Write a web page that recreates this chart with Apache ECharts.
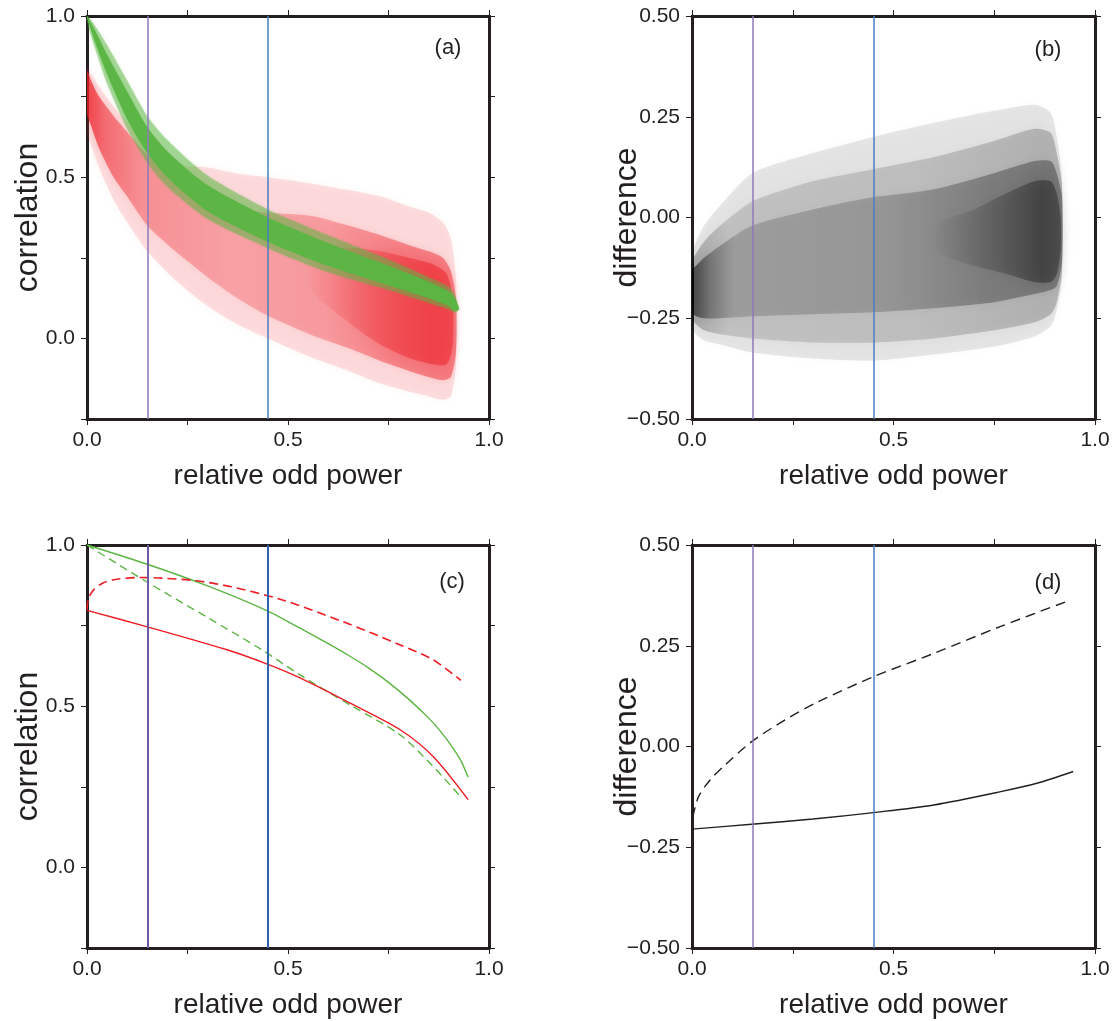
<!DOCTYPE html>
<html>
<head>
<meta charset="utf-8">
<script src="https://cdn.jsdelivr.net/npm/echarts@6/dist/echarts.min.js"></script>
<style>
html,body{margin:0;padding:0;background:#fff;}
#chart{width:1115px;height:1021px;}
</style>
</head>
<body>
<div id="chart"></div>
<script>
// ---------------- DATA ----------------
// vertical reference lines (relative odd power)
const refLineX = [0.15, 0.45];

// Panel (a): red cloud envelopes
const aRedX       = [0, 0.01, 0.03, 0.066, 0.1, 0.15, 0.22, 0.3, 0.38, 0.45, 0.56, 0.65, 0.73, 0.8, 0.85, 0.885, 0.905, 0.918];
const aRedOuterUp = [0.84, 0.82, 0.78, 0.72, 0.67, 0.60, 0.54, 0.53, 0.51, 0.50, 0.48, 0.46, 0.44, 0.41, 0.39, 0.36, 0.31, 0.18];
const aRedOuterLo = [0.64, 0.60, 0.53, 0.43, 0.36, 0.27, 0.18, 0.10, 0.04, 0.0, -0.06, -0.10, -0.14, -0.165, -0.18, -0.19, -0.18, -0.08];
const aRedMidUp   = [0.83, 0.80, 0.75, 0.69, 0.64, 0.57, 0.50, 0.43, 0.40, 0.39, 0.38, 0.35, 0.32, 0.29, 0.27, 0.25, 0.21, 0.12];
const aRedMidLo   = [0.70, 0.66, 0.59, 0.50, 0.44, 0.35, 0.27, 0.19, 0.12, 0.07, 0.01, -0.03, -0.07, -0.10, -0.12, -0.13, -0.12, -0.04];
const aRedRightX  = [0.55, 0.65, 0.73, 0.8, 0.86, 0.895, 0.91];
const aRedRightUp = [0.26, 0.28, 0.27, 0.25, 0.23, 0.20, 0.12];
const aRedRightLo = [0.16, 0.05, -0.02, -0.06, -0.08, -0.08, -0.02];

// Panel (a): green band envelopes
const aGreenX       = [0, 0.005, 0.02, 0.05, 0.1, 0.15, 0.2, 0.3, 0.45, 0.6, 0.75, 0.85, 0.9, 0.915, 0.925];
const aGreenCoreUp  = [1.0, 0.99, 0.955, 0.88, 0.765, 0.655, 0.58, 0.475, 0.375, 0.295, 0.225, 0.175, 0.145, 0.125, 0.095];
const aGreenCoreLo  = [0.995, 0.975, 0.92, 0.82, 0.68, 0.575, 0.50, 0.395, 0.30, 0.225, 0.165, 0.125, 0.10, 0.085, 0.09];
const aGreenOuterUp = [1.0, 0.995, 0.97, 0.91, 0.80, 0.69, 0.615, 0.505, 0.40, 0.32, 0.245, 0.19, 0.16, 0.135, 0.095];
const aGreenOuterLo = [0.99, 0.96, 0.90, 0.79, 0.65, 0.545, 0.47, 0.37, 0.28, 0.205, 0.15, 0.11, 0.09, 0.08, 0.09];

// Panel (b): black cloud envelopes
const bX       = [0, 0.01, 0.03, 0.07, 0.15, 0.3, 0.45, 0.6, 0.75, 0.85, 0.89, 0.905, 0.918];
const bOuterUp = [-0.09, -0.06, -0.02, 0.03, 0.11, 0.16, 0.20, 0.235, 0.265, 0.28, 0.26, 0.20, 0.10];
const bOuterLo = [-0.27, -0.29, -0.305, -0.315, -0.335, -0.35, -0.355, -0.34, -0.32, -0.295, -0.27, -0.23, -0.15];
const bMidUp   = [-0.11, -0.09, -0.06, -0.02, 0.04, 0.09, 0.12, 0.15, 0.19, 0.22, 0.21, 0.16, 0.08];
const bMidLo   = [-0.25, -0.265, -0.28, -0.29, -0.30, -0.31, -0.31, -0.30, -0.28, -0.26, -0.24, -0.21, -0.13];
const bCoreUp  = [-0.13, -0.12, -0.10, -0.07, -0.02, 0.02, 0.05, 0.07, 0.11, 0.14, 0.14, 0.11, 0.05];
const bCoreLo  = [-0.235, -0.245, -0.25, -0.25, -0.245, -0.24, -0.235, -0.225, -0.21, -0.19, -0.18, -0.17, -0.11];
const bDarkRX  = [0.6, 0.7, 0.78, 0.85, 0.89, 0.905, 0.915];
const bDarkRUp = [-0.02, 0.02, 0.06, 0.09, 0.09, 0.06, 0.0];
const bDarkRLo = [-0.08, -0.12, -0.14, -0.16, -0.16, -0.14, -0.08];

// Panel (c): curves
const cGreenSolidX = [0, 0.148, 0.3, 0.45, 0.53, 0.6, 0.65, 0.7, 0.75, 0.8, 0.85, 0.88, 0.91, 0.93, 0.948];
const cGreenSolidY = [1.0, 0.941, 0.873, 0.795, 0.742, 0.694, 0.658, 0.619, 0.574, 0.522, 0.463, 0.421, 0.371, 0.331, 0.28];
const cGreenDashX  = [0, 0.148, 0.3, 0.435, 0.53, 0.654, 0.779, 0.861, 0.93];
const cGreenDashY  = [1.0, 0.886, 0.775, 0.675, 0.597, 0.504, 0.411, 0.313, 0.218];
const cRedSolidX   = [0, 0.148, 0.348, 0.45, 0.53, 0.654, 0.779, 0.861, 0.948];
const cRedSolidY   = [0.797, 0.747, 0.675, 0.63, 0.588, 0.51, 0.427, 0.344, 0.21];
const cRedDashX    = [0, 0.004, 0.016, 0.041, 0.074, 0.132, 0.19, 0.273, 0.356, 0.48, 0.637, 0.779, 0.861, 0.93];
const cRedDashY    = [0.80, 0.835, 0.86, 0.883, 0.894, 0.899, 0.897, 0.889, 0.871, 0.832, 0.762, 0.69, 0.644, 0.58];

// Panel (d): curves
const dDashX  = [0.002, 0.016, 0.045, 0.082, 0.148, 0.231, 0.313, 0.45, 0.6, 0.766, 0.93];
const dDashY  = [-0.175, -0.125, -0.083, -0.046, 0.012, 0.066, 0.111, 0.173, 0.231, 0.298, 0.36];
const dSolidX = [0, 0.148, 0.3, 0.45, 0.6, 0.766, 0.86, 0.946];
const dSolidY = [-0.205, -0.193, -0.18, -0.164, -0.145, -0.112, -0.09, -0.062];

const panelLabels = ['(a)', '(b)', '(c)', '(d)'];
const xAxisTitle = 'relative odd power';
const yTitles = ['correlation', 'difference', 'correlation', 'difference'];

// ---------------- CHART ----------------
const FONT = '"Liberation Sans", Arial, Helvetica, sans-serif';
const INK = '#231f20';
const chart = echarts.init(document.getElementById('chart'), null, {renderer: 'canvas'});

const grids = [
  {left: 87, top: 16, width: 402, height: 403},
  {left: 692, top: 16, width: 403, height: 403},
  {left: 87, top: 545, width: 402, height: 403},
  {left: 692, top: 545, width: 403, height: 403}
];
const yRanges = [[-0.25, 1.0], [-0.5, 0.5], [-0.25, 1.0], [-0.5, 0.5]];
const yNameGaps = [43, 49, 43, 49];

function isMult(v, s) { return Math.abs(v / s - Math.round(v / s)) < 1e-6; }
const fmtX = v => isMult(v, 0.5) ? v.toFixed(1) : '';
const fmtCorr = v => isMult(v, 0.5) ? v.toFixed(1) : '';
const fmtDiff = v => v.toFixed(2).replace('-', '\u2212');

const xAxes = [], yAxes = [];
for (let g = 0; g < 4; g++) {
  const common = {
    type: 'value', gridIndex: g, min: 0, max: 1, interval: 0.25,
    splitLine: {show: false},
    axisLine: {show: true, onZero: false, lineStyle: {color: INK, width: 3}},
    axisTick: {show: true, inside: false, length: 6, lineStyle: {color: INK, width: 1}}
  };
  xAxes.push(Object.assign({}, common, {
    position: 'bottom',
    name: xAxisTitle, nameLocation: 'middle', nameGap: 43, nameMoveOverlap: false,
    nameTextStyle: {fontSize: 28, color: INK, fontFamily: FONT},
    axisLabel: {show: true, fontSize: 21, color: INK, fontFamily: FONT, margin: 11, formatter: fmtX}
  }));
  xAxes.push(Object.assign({}, common, {position: 'top', axisLabel: {show: false}}));

  const ycommon = {
    type: 'value', gridIndex: g, min: yRanges[g][0], max: yRanges[g][1], interval: 0.25,
    splitLine: {show: false},
    axisLine: {show: true, onZero: false, lineStyle: {color: INK, width: 3}},
    axisTick: {show: true, inside: false, length: 6, lineStyle: {color: INK, width: 1}}
  };
  yAxes.push(Object.assign({}, ycommon, {
    position: 'left',
    name: yTitles[g], nameLocation: 'middle', nameGap: yNameGaps[g], nameMoveOverlap: false,
    nameTextStyle: {fontSize: 32, color: INK, fontFamily: FONT},
    axisLabel: {show: true, fontSize: 21, color: INK, fontFamily: FONT, margin: 12,
      formatter: (g % 2 === 0) ? fmtCorr : fmtDiff}
  }));
  yAxes.push(Object.assign({}, ycommon, {position: 'right', axisLabel: {show: false}}));
}

// horizontal gradient from a list of [offset, rgba]
function hgrad(stops) {
  return new echarts.graphic.LinearGradient(0, 0, 1, 0, stops.map(s => ({offset: s[0], color: s[1]})));
}

function band(g, xs, up, lo, fill, blur, shadowColor) {
  return {
    type: 'custom', xAxisIndex: 2 * g, yAxisIndex: 2 * g, silent: true, clip: true,
    data: [[0, 0]],
    renderItem: function (params, api) {
      const pts = [];
      for (let i = 0; i < xs.length; i++) pts.push(api.coord([xs[i], up[i]]));
      for (let i = xs.length - 1; i >= 0; i--) pts.push(api.coord([xs[i], lo[i]]));
      return {
        type: 'polygon',
        shape: {points: pts, smooth: 0.25},
        style: {fill: fill, shadowBlur: blur || 0, shadowColor: shadowColor || 'rgba(0,0,0,0)'}
      };
    }
  };
}

function curve(g, xs, ys, color, dashed, width) {
  return {
    type: 'line', xAxisIndex: 2 * g, yAxisIndex: 2 * g, silent: true,
    showSymbol: false, symbol: 'none', smooth: 0.3,
    data: xs.map((x, i) => [x, ys[i]]),
    lineStyle: {color: color, width: width || 1.4, type: dashed ? dashed : 'solid'},
    z: 3
  };
}

function refLines(g, colors, width) {
  return {
    type: 'line', xAxisIndex: 2 * g, yAxisIndex: 2 * g, silent: true, data: [],
    z: 5,
    markLine: {
      silent: true, symbol: 'none', animation: false,
      label: {show: false},
      data: refLineX.map((x, i) => ({xAxis: x, lineStyle: {color: colors[i], width: width, type: 'solid'}}))
    }
  };
}

const RED = '#ec1c24';
const GREEN = '#5bb543';
const series = [
  // (a) red cloud
  band(0, aRedX, aRedOuterUp, aRedOuterLo, 'rgba(236,28,36,0.13)', 8, 'rgba(236,28,36,0.35)'),
  band(0, aRedX, aRedMidUp, aRedMidLo,
       hgrad([[0, 'rgba(236,28,36,0.75)'], [0.05, 'rgba(236,28,36,0.5)'], [0.15, 'rgba(236,28,36,0.32)'],
              [0.4, 'rgba(236,28,36,0.24)'], [0.65, 'rgba(236,28,36,0.28)'], [0.85, 'rgba(236,28,36,0.42)'], [1, 'rgba(236,28,36,0.45)']]),
       6, 'rgba(236,28,36,0.3)'),
  band(0, aRedRightX, aRedRightUp, aRedRightLo,
       hgrad([[0, 'rgba(236,28,36,0)'], [0.45, 'rgba(236,28,36,0.3)'], [0.85, 'rgba(236,28,36,0.5)'], [1, 'rgba(236,28,36,0.45)']]),
       10, 'rgba(236,28,36,0.4)'),
  // (a) green band
  band(0, aGreenX, aGreenOuterUp, aGreenOuterLo, 'rgba(91,181,67,0.45)', 3, 'rgba(91,181,67,0.5)'),
  band(0, aGreenX, aGreenCoreUp, aGreenCoreLo, 'rgba(91,181,67,0.95)', 1, 'rgba(91,181,67,0.6)'),
  refLines(0, ['#8c78bb', '#4a7cc2'], 1.5),
  // (b) black cloud
  band(1, bX, bOuterUp, bOuterLo, 'rgba(0,0,0,0.09)', 10, 'rgba(0,0,0,0.25)'),
  band(1, bX, bMidUp, bMidLo,
       hgrad([[0, 'rgba(0,0,0,0.25)'], [0.1, 'rgba(0,0,0,0.13)'], [0.6, 'rgba(0,0,0,0.14)'], [1, 'rgba(0,0,0,0.2)']]),
       8, 'rgba(0,0,0,0.2)'),
  band(1, bX, bCoreUp, bCoreLo,
       hgrad([[0, 'rgba(0,0,0,0.55)'], [0.05, 'rgba(0,0,0,0.3)'], [0.12, 'rgba(0,0,0,0.16)'], [0.5, 'rgba(0,0,0,0.18)'], [0.8, 'rgba(0,0,0,0.28)'], [1, 'rgba(0,0,0,0.3)']]),
       8, 'rgba(0,0,0,0.2)'),
  band(1, bDarkRX, bDarkRUp, bDarkRLo,
       hgrad([[0, 'rgba(0,0,0,0)'], [0.5, 'rgba(0,0,0,0.18)'], [0.85, 'rgba(0,0,0,0.35)'], [1, 'rgba(0,0,0,0.3)']]),
       14, 'rgba(0,0,0,0.35)'),
  refLines(1, ['#8c78bb', '#4a7cc2'], 1.5),
  // (c) curves
  refLines(2, ['#6c5aa8', '#2f62b0'], 2),
  curve(2, cGreenSolidX, cGreenSolidY, GREEN, null, 1.4),
  curve(2, cGreenDashX, cGreenDashY, GREEN, [8, 5], 1.4),
  curve(2, cRedSolidX, cRedSolidY, RED, null, 1.4),
  curve(2, cRedDashX, cRedDashY, RED, [9, 5], 1.6),
  // (d) curves
  refLines(3, ['#8c78bb', '#4a7cc2'], 1.5),
  curve(3, dDashX, dDashY, INK, [10, 6], 1.4),
  curve(3, dSolidX, dSolidY, INK, null, 1.4)
];

const labelPos = [[448, 48], [1048, 50], [452, 582], [1048, 583]];
const graphics = panelLabels.map((t, i) => ({
  type: 'text', x: labelPos[i][0], y: labelPos[i][1], z: 10,
  style: {text: t, fontSize: 22, fontFamily: FONT, fill: INK, align: 'center', verticalAlign: 'middle'}
}));

chart.setOption({
  animation: false,
  backgroundColor: '#ffffff',
  grid: grids,
  xAxis: xAxes,
  yAxis: yAxes,
  series: series,
  graphic: graphics
});
</script>
</body>
</html>
